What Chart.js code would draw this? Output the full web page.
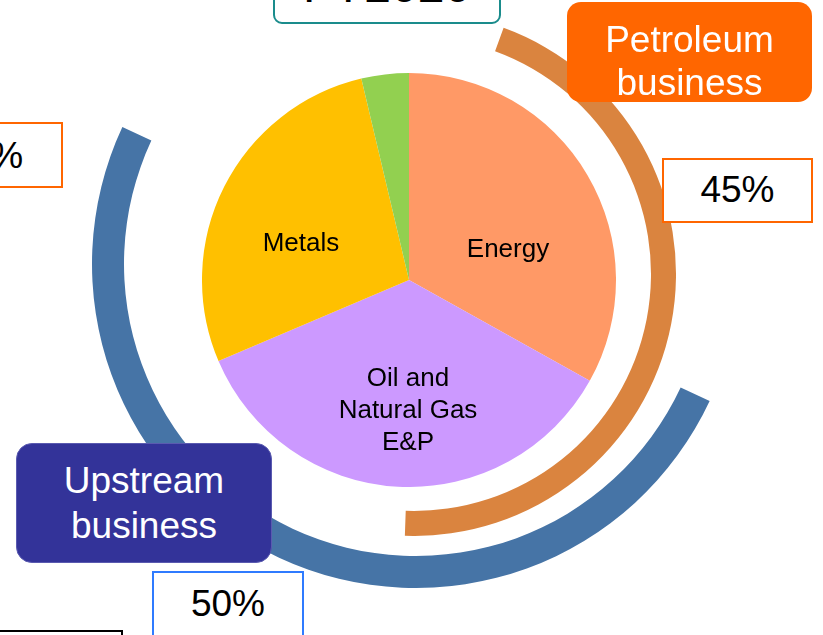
<!DOCTYPE html>
<html>
<head>
<meta charset="utf-8">
<script src="https://cdn.jsdelivr.net/npm/chart.js@4.4.1/dist/chart.umd.min.js"></script>
<style>
    html, body {
        margin: 0;
        padding: 0;
        width: 823px;
        height: 635px;
        overflow: hidden;
        background: #ffffff;
        font-family: "Liberation Sans", Arial, sans-serif;
    }
    .lienzo {
        position: absolute;
    }
    /* en el original los anillos no comparten centro con el pastel */
    #contenedorUpstream { left: 92px;  top: -60px; width: 648px; height: 648px; }
    #contenedorPetroleo { left: 152px; top: 12px;  width: 524px; height: 524px; }
    #contenedorPastel   { left: 202px; top: 73px;  width: 414px; height: 414px; }
    .caja {
        position: absolute;
        box-sizing: border-box;
        text-align: center;
        white-space: nowrap;
    }
    .etiqueta {
        background: #ff6600;
        color: #ffffff;
        font-size: 37px;
        border-radius: 14px;
    }
    .porcentaje {
        background: #ffffff;
        color: #000000;
        font-size: 37px;
        line-height: 40px;
    }
</style>
</head>
<body>
<div class="lienzo" id="contenedorUpstream"><canvas id="graficoUpstream" width="648" height="648"></canvas></div>
<div class="lienzo" id="contenedorPetroleo"><canvas id="graficoPetroleo" width="524" height="524"></canvas></div>
<div class="lienzo" id="contenedorPastel"><canvas id="graficoSectores" width="414" height="414"></canvas></div>

<div class="caja" style="left:273px; top:-60px; width:228px; height:84px; border:2px solid #1a8c8c; border-radius:9px; background:#fff; font-size:48px; line-height:48px; padding-top:20px;">FY2020</div>
<div class="caja porcentaje" style="left:-70px; top:122px; width:133px; height:66px; border:2px solid #ff6600; padding-top:12px;">5%</div>
<div class="caja etiqueta" style="left:567px; top:2px; width:245px; height:100px; line-height:43px; padding-top:16px;">Petroleum<br>business</div>
<div class="caja porcentaje" id="cajaPetroleo" style="left:662px; top:158px; width:151px; height:65px; border:2px solid #ff6600; padding-top:10px;"></div>
<div class="caja etiqueta" style="left:16px; top:443px; width:256px; height:120px; line-height:45px; padding-top:14px; background:#333399; border:1px solid #5a5ab0; border-radius:16px;">Upstream<br>business</div>
<div class="caja porcentaje" id="cajaUpstream" style="left:152px; top:571px; width:152px; height:90px; border:2px solid #2f7bff; padding-top:11px;"></div>
<div class="caja" style="left:-10px; top:630px; width:133px; height:40px; border:2px solid #000;"></div>

<script>
'use strict';

// Datos del grafico: participacion por sector (%)
const SECTORES = ['Energy', 'Oil and Natural Gas E&P', 'Metals', 'Others'];
const PARTICIPACION = [33.1, 35.5, 27.7, 3.7];
const LINEAS_ETIQUETA = [['Energy'], ['Oil and', 'Natural Gas', 'E&P'], ['Metals'], ['Others']];

// Anillos exteriores: negocio upstream y negocio petrolero (%)
const UPSTREAM = [50, 50];
const PETROLEO = [45, 55];

const COLORES_SECTORES = ['#ff9966', '#cc99ff', '#ffc000', '#92d050'];
const TRANSPARENTE = 'rgba(0,0,0,0)';

// desplazamiento de cada etiqueta respecto al centro del pastel
const POS_ETIQUETAS = [[99, -23], [-1, 106], [-108, -29], [-23, -215]];

document.getElementById('cajaPetroleo').textContent = PETROLEO[0] + '%';
document.getElementById('cajaUpstream').textContent = UPSTREAM[0] + '%';

const OPCIONES_BASE = {
    responsive: false,
    animation: false,
    cutout: 0,
    layout: { padding: 0 },
    plugins: {
        legend: { display: false },
        tooltip: { enabled: false }
    },
    events: []
};

const pluginEtiquetas = {
    id: 'etiquetasSectores',
    afterDatasetsDraw(chart) {
        const meta = chart.getDatasetMeta(0);
        const ctx = chart.ctx;
        ctx.save();
        ctx.fillStyle = '#000000';
        ctx.font = '26px "Liberation Sans", Arial, sans-serif';
        ctx.textAlign = 'center';
        ctx.textBaseline = 'alphabetic';
        meta.data.forEach(function (arco, i) {
            const [dx, dy] = POS_ETIQUETAS[i];
            LINEAS_ETIQUETA[i].forEach(function (linea, k) {
                ctx.fillText(linea, arco.x + dx, arco.y + dy + k * 32);
            });
        });
        ctx.restore();
    }
};

/**
 * Crea un anillo fino: el primer valor se pinta y el resto queda transparente.
 */
function crearAnillo(idCanvas, etiqueta, datos, color, rotacion, grosor, hueco) {
    new Chart(document.getElementById(idCanvas), {
        type: 'doughnut',
        data: {
            labels: [etiqueta, ''],
            datasets: [
                {
                    data: datos,
                    backgroundColor: [color, TRANSPARENTE],
                    borderWidth: 0,
                    rotation: rotacion,
                    weight: grosor
                },
                {
                    data: [1],
                    backgroundColor: [TRANSPARENTE],
                    borderWidth: 0,
                    weight: hueco
                }
            ]
        },
        options: OPCIONES_BASE
    });
}

crearAnillo('graficoUpstream', 'Upstream business', UPSTREAM, '#4674a6', 115, 32, 292);
crearAnillo('graficoPetroleo', 'Petroleum business', PETROLEO, '#da843f', 20, 25, 237);

// Pastel central por sector
new Chart(document.getElementById('graficoSectores'), {
    type: 'doughnut',
    data: {
        labels: SECTORES,
        datasets: [{
            data: PARTICIPACION,
            backgroundColor: COLORES_SECTORES,
            borderWidth: 0
        }]
    },
    options: OPCIONES_BASE,
    plugins: [pluginEtiquetas]
});
</script>
</body>
</html>
